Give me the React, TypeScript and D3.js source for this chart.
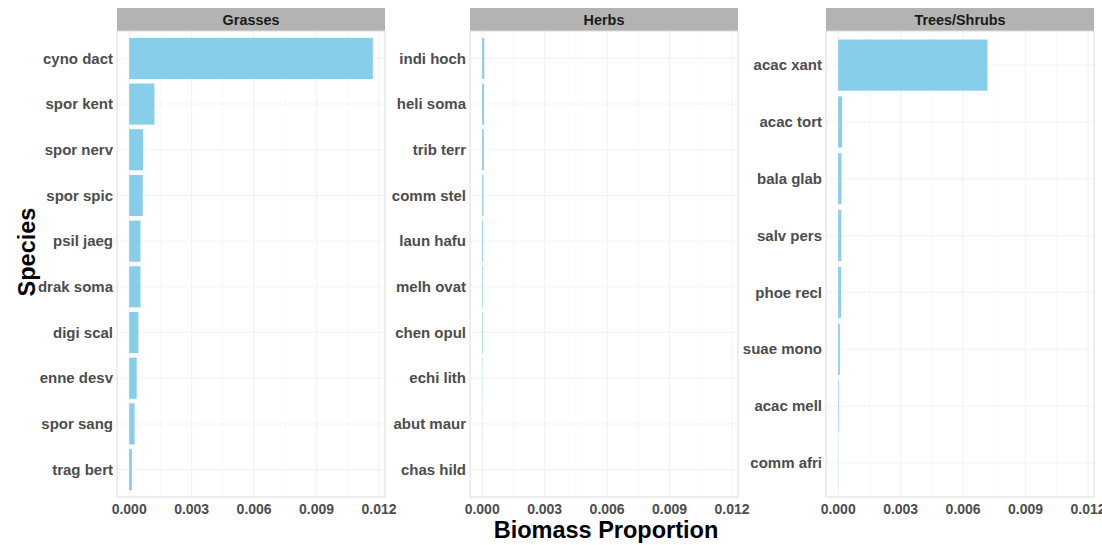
import * as d3 from "d3";

// species per facet, top to bottom
const grassSpecies = ["cyno dact", "spor kent", "spor nerv", "spor spic", "psil jaeg", "drak soma", "digi scal", "enne desv", "spor sang", "trag bert"];
const grassValues = [0.0117, 0.00121, 0.00066, 0.00065, 0.00054, 0.00054, 0.00044, 0.00036, 0.00026, 0.00013];

const herbSpecies = ["indi hoch", "heli soma", "trib terr", "comm stel", "laun hafu", "melh ovat", "chen opul", "echi lith", "abut maur", "chas hild"];
const herbValues = [0.0001, 0.00009, 0.00008, 0.00006, 0.00004, 0.00003, 0.00003, 0.00001, 0.000005, 0.000003];

const treeSpecies = ["acac xant", "acac tort", "bala glab", "salv pers", "phoe recl", "suae mono", "acac mell", "comm afri"];
const treeValues = [0.00717, 0.00019, 0.00016, 0.00015, 0.00014, 0.00008, 0.00003, 0.00001];

const facets = [
  { name: "Grasses", species: grassSpecies, values: grassValues, left: 117 },
  { name: "Herbs", species: herbSpecies, values: herbValues, left: 470 },
  { name: "Trees/Shrubs", species: treeSpecies, values: treeValues, left: 826 },
];

const xTicks = [0, 0.003, 0.006, 0.009, 0.012];
const minorTicks = [0.0015, 0.0045, 0.0075, 0.0105];

const W = 1102;
const H = 545;
const panelW = 268;
const stripTop = 8;
const panelTop = 31;
const panelBottom = 497;
const font = "'Liberation Sans', Arial, Helvetica, sans-serif";

const maxVal = d3.max([...grassValues, ...herbValues, ...treeValues]) as number;

export default function App() {
  return (
    <svg width={W} height={H} style={{ position: "absolute", left: 0, top: 0, background: "#fff" }} fontFamily={font}>
      {facets.map((f) => {
        const x = d3
          .scaleLinear()
          .domain([-0.05 * maxVal, maxVal * 1.05])
          .range([f.left, f.left + panelW]);
        const y = d3
          .scaleBand()
          .domain(f.species)
          .range([panelTop, panelBottom])
          .paddingInner(0.1)
          .paddingOuter(0.15);
        return (
          <g key={f.name}>
            {/* strip */}
            <rect x={f.left} y={stripTop} width={panelW} height={panelTop - stripTop} fill="#b3b3b3" />
            <text x={f.left + panelW / 2} y={(stripTop + panelTop) / 2} dy="0.35em" textAnchor="middle" fontSize={14.4} fontWeight="bold" fill="#1a1a1a">
              {f.name}
            </text>
            {/* grid */}
            {minorTicks.map((t) => (
              <line key={"m" + t} x1={x(t)} x2={x(t)} y1={panelTop} y2={panelBottom} stroke="#f5f5f5" strokeWidth={0.6} />
            ))}
            {xTicks.map((t) => (
              <line key={"g" + t} x1={x(t)} x2={x(t)} y1={panelTop} y2={panelBottom} stroke="#eeeeee" strokeWidth={0.8} />
            ))}
            {f.species.map((s) => (
              <line key={"h" + s} x1={f.left} x2={f.left + panelW} y1={(y(s) as number) + y.bandwidth() / 2} y2={(y(s) as number) + y.bandwidth() / 2} stroke="#f0f0f0" strokeWidth={0.8} />
            ))}
            {/* bars */}
            {f.species.map((s, i) => (
              <rect key={"b" + s} x={x(0)} y={y(s)} width={Math.max(0, x(f.values[i]) - x(0))} height={y.bandwidth()} fill="#87CEEB" />
            ))}
            {/* border */}
            <rect x={f.left} y={panelTop} width={panelW} height={panelBottom - panelTop} fill="none" stroke="#dcdcdc" strokeWidth={1} />
            {/* y labels */}
            {f.species.map((s) => (
              <text key={"l" + s} x={f.left - 4} y={(y(s) as number) + y.bandwidth() / 2} dy="0.35em" textAnchor="end" fontSize={15} fontWeight="bold" fill="#4d4d4d">
                {s}
              </text>
            ))}
            {/* x tick labels */}
            {xTicks.map((t) => (
              <text key={"t" + t} x={x(t)} y={panelBottom + 12} dy="0.35em" textAnchor="middle" fontSize={14} fontWeight="bold" fill="#4d4d4d">
                {d3.format(".3f")(t)}
              </text>
            ))}
          </g>
        );
      })}
      <text transform={`translate(27,252) rotate(-90)`} textAnchor="middle" dy="0.35em" fontSize={23.5} fontWeight="bold" fill="#000">
        Species
      </text>
      <text x={606} y={530} textAnchor="middle" dy="0.35em" fontSize={23.5} fontWeight="bold" fill="#000">
        Biomass Proportion
      </text>
    </svg>
  );
}
